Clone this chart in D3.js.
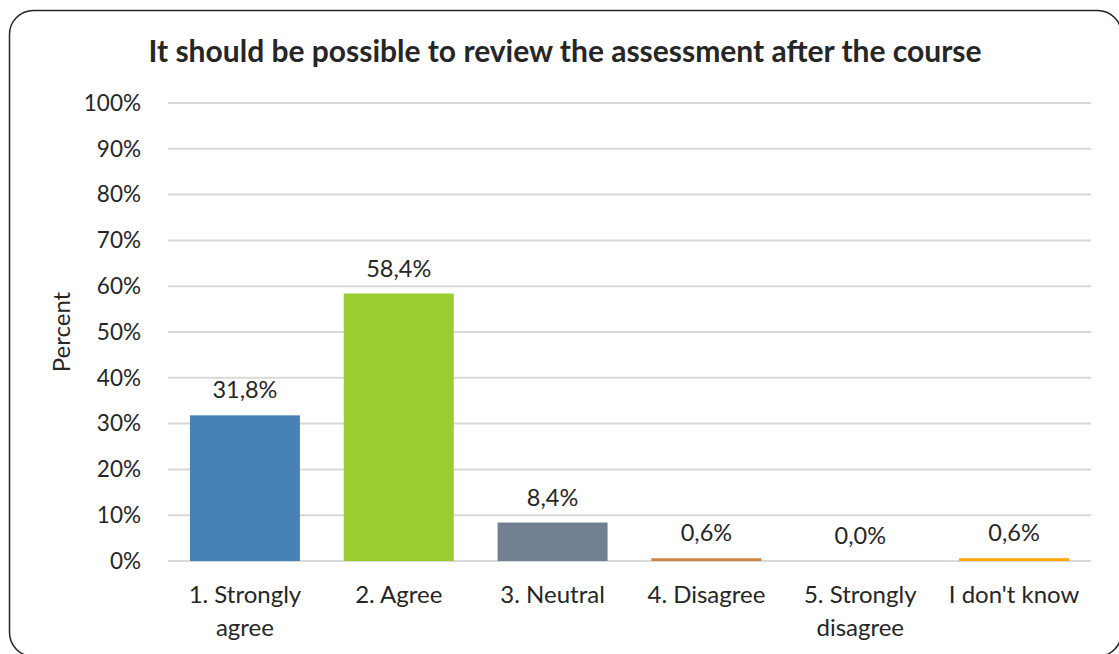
<!DOCTYPE html>
<html>
<head>
<meta charset="utf-8">
<script src="https://cdn.jsdelivr.net/npm/d3@7"></script>
<style>
  body { margin: 0; background: #fff; }
  text { font-family: Lato, "Open Sans", sans-serif; fill: #262626; }
</style>
</head>
<body>
<div id="chart"></div>
<script>
var categories = ["1. Strongly agree", "2. Agree", "3. Neutral", "4. Disagree", "5. Strongly disagree", "I don't know"];
var values = [31.8, 58.4, 8.4, 0.6, 0.0, 0.6];
var colors = ["#4682b4", "#9acd32", "#708090", "#cd853f", "#6a5acd", "#ffa500"];
var yTicks = [0, 10, 20, 30, 40, 50, 60, 70, 80, 90, 100];
var title = "It should be possible to review the assessment after the course";

var width = 1119;
var height = 654;
var margin = {top: 103, right: 28, bottom: 93, left: 168};

var locale = d3.formatLocale({decimal: ",", thousands: ".", grouping: [3], currency: ["", "€"]});
var fmt = locale.format(".1f");

var svg = d3.select("#chart")
    .append("svg")
    .attr("width", width)
    .attr("height", height);

// frame
svg.append("rect")
    .attr("x", 9.5)
    .attr("y", 10.5)
    .attr("width", 1112)
    .attr("height", 646)
    .attr("rx", 24)
    .attr("fill", "none")
    .attr("stroke", "#262626")
    .attr("stroke-width", 1.5);

var x = d3.scaleBand()
    .domain(categories)
    .range([margin.left, width - margin.right])
    .paddingInner(0.285)
    .paddingOuter(0.1425);

var y = d3.scaleLinear()
    .domain([0, 100])
    .range([height - margin.bottom, margin.top]);

// gridlines
svg.append("g")
    .selectAll("line")
    .data(yTicks)
    .enter()
    .append("line")
    .attr("x1", margin.left)
    .attr("x2", width - margin.right)
    .attr("y1", function(d) { return y(d); })
    .attr("y2", function(d) { return y(d); })
    .attr("stroke", "#d9d9d9")
    .attr("stroke-width", 2);

// y axis labels
var yAxis = d3.axisLeft(y)
    .tickValues(yTicks)
    .tickFormat(function(d) { return d + "%"; })
    .tickSize(0)
    .tickPadding(27);

svg.append("g")
    .attr("transform", "translate(" + margin.left + ",0)")
    .call(yAxis)
    .call(function(g) { g.select(".domain").remove(); })
    .selectAll("text")
    .attr("font-size", 22.5)
    .attr("font-family", "Lato, 'Open Sans', sans-serif")
    .attr("fill", "#262626");

// bars
svg.selectAll("rect.bar")
    .data(values)
    .enter()
    .append("rect")
    .attr("class", "bar")
    .attr("x", function(d, i) { return x(categories[i]); })
    .attr("y", function(d) { return y(d); })
    .attr("width", x.bandwidth())
    .attr("height", function(d) { return y(0) - y(d); })
    .attr("fill", function(d, i) { return colors[i]; });

// value labels
svg.selectAll("text.val")
    .data(values)
    .enter()
    .append("text")
    .attr("class", "val")
    .attr("x", function(d, i) { return x(categories[i]) + x.bandwidth() / 2; })
    .attr("y", function(d) { return y(d) - 17; })
    .attr("text-anchor", "middle")
    .attr("font-size", 23.5)
    .text(function(d) { return fmt(d) + "%"; });

// category labels (wrapped like the original)
var catLines = {
    "1. Strongly agree": ["1. Strongly", "agree"],
    "5. Strongly disagree": ["5. Strongly", "disagree"]
};
var cat = svg.selectAll("text.cat")
    .data(categories)
    .enter()
    .append("text")
    .attr("class", "cat")
    .attr("text-anchor", "middle")
    .attr("font-size", 24)
    .attr("x", function(d) { return x(d) + x.bandwidth() / 2; })
    .attr("y", 603);

cat.each(function(d) {
    var lines = catLines[d] || [d];
    var t = d3.select(this);
    lines.forEach(function(l, i) {
        t.append("tspan")
            .attr("x", x(d) + x.bandwidth() / 2)
            .attr("dy", i === 0 ? 0 : 33)
            .text(l);
    });
});

// y axis title
svg.append("text")
    .attr("transform", "translate(70," + y(50) + ") rotate(-90)")
    .attr("text-anchor", "middle")
    .attr("font-size", 24)
    .text("Percent");

// chart title
svg.append("text")
    .attr("x", 565)
    .attr("y", 62)
    .attr("text-anchor", "middle")
    .attr("font-size", 30)
    .attr("font-weight", "bold")
    .text(title);
</script>
</body>
</html>
